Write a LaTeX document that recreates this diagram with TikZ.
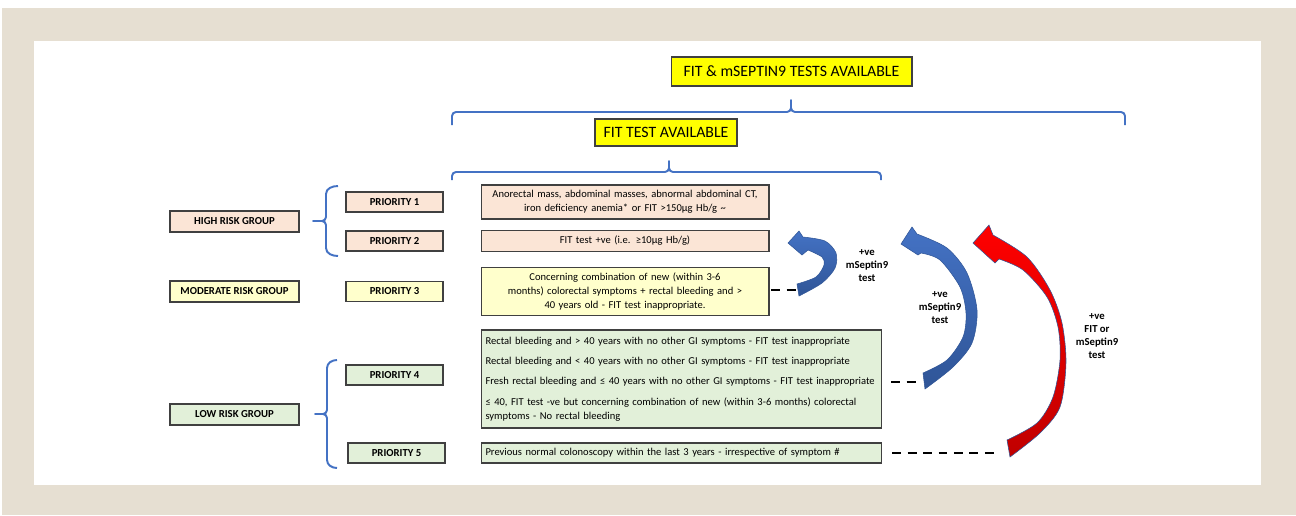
\documentclass[tikz,border=0pt]{standalone}
\usepackage{fontspec}
\setmainfont{Carlito}
\usetikzlibrary{positioning}

\definecolor{bgbeige}{HTML}{E6DFD2}
\definecolor{highfill}{HTML}{FBE5D6}
\definecolor{modfill}{HTML}{FFFFCC}
\definecolor{lowfill}{HTML}{E2F0D9}
\definecolor{titlefill}{HTML}{FFFF00}
\definecolor{bracecol}{HTML}{4472C4}
\definecolor{arrowtop}{HTML}{4472C4}
\definecolor{arrowbot}{HTML}{2F5597}
\definecolor{redtop}{HTML}{FF0000}
\definecolor{redbot}{HTML}{C00000}

\begin{document}
\begin{tikzpicture}[
    x=0.02cm, y=-0.02cm,
    node distance=7.4mm,
    every node/.style={font=\fontsize{6}{7.9}\selectfont},
    box/.style={
        draw=black!75,
        line width=0.6pt,
        inner sep=1pt
    },
    group/.style={
        box,
        font=\fontsize{6.1}{7.9}\selectfont\bfseries,
        minimum width=25.8mm,
        minimum height=4.2mm
    },
    prio/.style={
        box,
        font=\fontsize{6.1}{7.9}\selectfont\bfseries,
        minimum width=19.4mm,
        minimum height=4mm
    },
    desc/.style={
        box,
        text width=55.6mm,
        inner xsep=1mm,
        align=center,
        minimum height=4.2mm
    },
    widedesc/.style={
        box,
        text width=78.4mm,
        inner xsep=0.9mm,
        align=left,
        minimum height=4mm
    },
    titlebox/.style={
        box,
        fill=titlefill,
        font=\fontsize{9}{11}\selectfont
    },
    bracepath/.style={
        draw=bracecol,
        line width=1.1pt,
        line join=round
    },
    dashline/.style={
        draw=black,
        line width=1.2pt,
        dash pattern=on 5.1pt off 3.7pt
    },
    fatblue/.style={
        top color=arrowtop,
        bottom color=arrowbot,
        draw=arrowbot,
        line width=0.3pt
    },
    fatred/.style={
        top color=redtop,
        bottom color=redbot,
        draw=arrowbot,
        line width=0.3pt
    },
    arrowlabel/.style={
        font=\fontsize{6.1}{7.4}\selectfont\bfseries,
        align=center
    }
]

% page and panel
\useasboundingbox (0,0) rectangle (1296,515);
\fill[white] (0,0) rectangle (1296,515);
\fill[bgbeige] (2,8) rectangle (1296,515);
\fill[white] (34,41) rectangle (1261,485);

% test availability
\node[titlebox, minimum width=48.2mm, minimum height=5.8mm] (bothtests) at (791.5,71.5)
{FIT \& mSEPTIN9 TESTS AVAILABLE};
\node[titlebox, minimum width=28.4mm, minimum height=5.4mm] (fittest) at (666,132.5)
{FIT TEST AVAILABLE};

\draw[bracepath] (452,125) -- (452,116) to[out=90,in=180] (456,112) -- (787,112)
    to[out=0,in=-90] (791,108) -- (791,100) -- (791,108)
    to[out=-90,in=180] (795,112) -- (1121,112) to[out=0,in=90] (1125,116) -- (1125,125);
\draw[bracepath] (452,180) -- (452,176) to[out=90,in=180] (456,172) -- (665,172)
    to[out=0,in=-90] (669,168) -- (669,161) -- (669,168)
    to[out=-90,in=180] (673,172) -- (877,172) to[out=0,in=90] (881,176) -- (881,180);

% risk groups
\node[group, fill=highfill] (high) at (234.5,221.5) {HIGH RISK GROUP};
\node[group, fill=modfill] (moderate) at (234.5,291.5) {MODERATE RISK GROUP};
\node[group, fill=lowfill] (low) at (234.5,414.5) {LOW RISK GROUP};

\draw[bracepath] (338,186) to[out=180,in=90] (326,194) -- (326,217)
    to[out=-90,in=0] (322,221) -- (313,221) -- (322,221)
    to[out=0,in=90] (326,225) -- (326,248) to[out=-90,in=180] (338,256);
\draw[bracepath] (337,360) to[out=180,in=90] (327,368) -- (327,410)
    to[out=-90,in=0] (323,414) -- (315,414) -- (323,414)
    to[out=0,in=90] (327,418) -- (327,460) to[out=-90,in=180] (337,468);

% priorities
\node[prio, fill=highfill] (p1) at (394.5,202) {PRIORITY 1};
\node[prio, fill=highfill] (p2) at (394.5,241) {PRIORITY 2};
\node[prio, fill=modfill] (p3) at (394.5,291.5) {PRIORITY 3};
\node[prio, fill=lowfill] (p4) at (394.5,375) {PRIORITY 4};
\node[prio, fill=lowfill] (p5) at (396.5,453) {PRIORITY 5};

% criteria
\node[desc, fill=highfill, minimum height=6.8mm, right=of p1] (desc1)
{Anorectal mass, abdominal masses, abnormal abdominal CT,\\
iron deficiency anemia* or FIT >150µg Hb/g \textasciitilde};
\node[desc, fill=highfill, right=of p2] (desc2)
{FIT test +ve (i.e. ≥10µg Hb/g)};
\node[desc, fill=modfill, minimum height=9.6mm, right=of p3] (desc3)
{Concerning combination of new (within 3-6\\
months) colorectal symptoms + rectal bleeding and >\\
40 years old - FIT test inappropriate.};
\node[widedesc, fill=lowfill, minimum height=19.6mm, right=of p4, yshift=-0.8mm] (desc4)
{Rectal bleeding and > 40 years with no other GI symptoms - FIT test inappropriate\\[3.6pt]
Rectal bleeding and < 40 years with no other GI symptoms - FIT test inappropriate\\[3.6pt]
Fresh rectal bleeding and ≤ 40 years with no other GI symptoms - FIT test inappropriate\\[3.6pt]
≤ 40, FIT test -ve but concerning combination of new (within 3-6 months) colorectal\\
symptoms - No rectal bleeding};
\node[widedesc, fill=lowfill, right=7mm of p5] (desc5)
{Previous normal colonoscopy within the last 3 years - irrespective of symptom \#};

% escalation arrows
\coordinate (tail1) at (796,290);
\coordinate (tail2) at (918,382);
\coordinate (tail3) at (1000,453);

\draw[dashline, shorten <=1pt] (desc3.east |- tail1) -- (tail1);
\draw[dashline, shorten <=5pt] (desc4.east |- tail2) -- (tail2);
\draw[dashline, shorten <=5.5pt] (desc5.east |- tail3) -- (tail3);

\path[fatblue] plot[smooth] coordinates {(799,296) (822,283) (835,268) (836,253) (825,241) (803,237)}
    -- (799,231) -- (788,243) -- (802,255)
    -- plot[smooth] coordinates {(808,250) (822,257) (824,265) (816,277) (797,284)} -- cycle;
\path[fatblue] plot[smooth] coordinates {(925,389) (953,367) (972,343) (977,310) (967,273) (947,248) (917,234)}
    -- (912,227) -- (901,244) -- (918,255)
    -- plot[smooth] coordinates {(921,253) (940,260) (960,287) (966,313) (963,337) (947,360) (923,373)} -- cycle;
\path[fatred] plot[smooth] coordinates {(1010,457) (1040,433) (1060,407) (1066,363) (1062,323) (1050,290) (1027,257) (993,235)}
    -- (989,225) -- (973,243) -- (995,263)
    -- plot[smooth] coordinates {(999,259) (1023,270) (1047,297) (1058,327) (1060,360) (1053,397) (1037,423) (1007,440)} -- cycle;

\node[arrowlabel] (lab1) at (867,266) {+ve\\mSeptin9\\test};
\node[arrowlabel] (lab2) at (940,307.5) {+ve\\mSeptin9\\test};
\node[arrowlabel] (lab3) at (1097,336) {+ve\\FIT or\\mSeptin9\\test};

\end{tikzpicture}
\end{document}
